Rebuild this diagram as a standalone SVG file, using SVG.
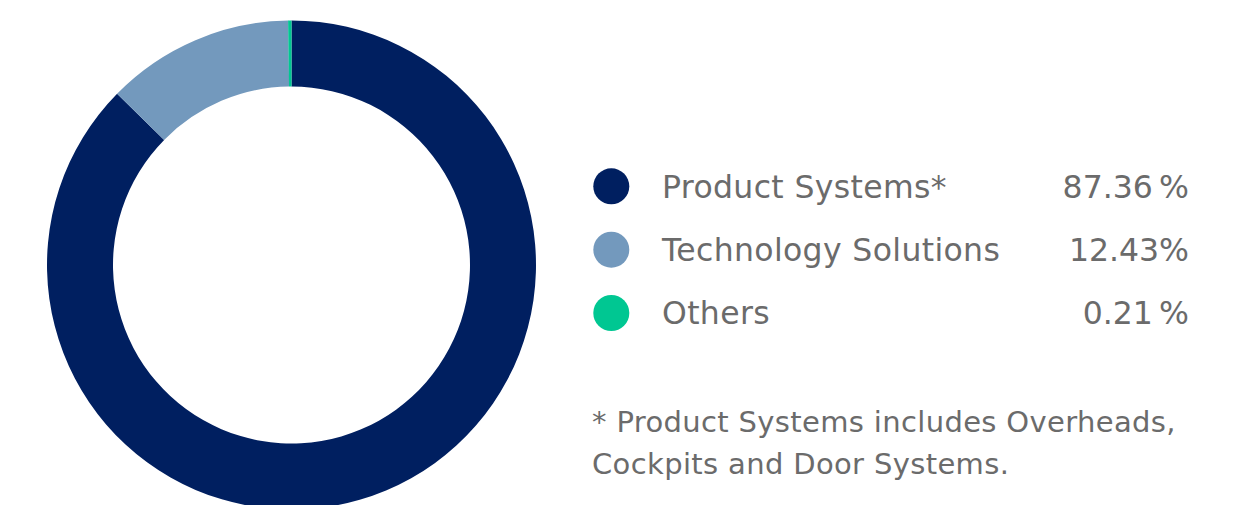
<svg xmlns="http://www.w3.org/2000/svg" width="1250" height="505" viewBox="0 0 1250 505">
<style>
.t{font-family:"DejaVu Sans",Verdana,sans-serif;fill:#6b6b6b}
.lg{font-size:31.5px}
.ls{letter-spacing:0.35px}
.fn{font-size:29px;letter-spacing:0.35px}
.pc{text-anchor:end}
</style>
<rect width="1250" height="505" fill="#ffffff"/>
<g id="donut">
<path id="seg-product" fill="#001f60" d="M 291.5 20.5 A 244.5 244.5 0 1 1 117.09 93.65 L 164.17 139.9 A 178.5 178.5 0 1 0 291.5 86.5 Z"/>
<path id="seg-technology" fill="#7399bd" d="M 117.09 93.65 A 244.5 244.5 0 0 1 288.27 20.52 L 289.14 86.52 A 178.5 178.5 0 0 0 164.17 139.9 Z"/>
<path id="seg-others" fill="#00c792" d="M 288.1 20.52 A 244.5 244.5 0 0 1 291.5 20.5 L 291.5 86.5 A 178.5 178.5 0 0 0 289 86.52 Z"/>
</g>
<g id="legend-product">
<circle cx="611.3" cy="186.3" r="18" fill="#001f60"/>
<text class="t lg ls" x="662" y="198">Product Systems*</text>
<text class="t lg pc" x="1189" y="198">87.36&#8201;%</text>
</g>
<g id="legend-technology">
<circle cx="611.3" cy="249.7" r="18" fill="#7399bd"/>
<text class="t lg ls" x="662" y="261">Technology Solutions</text>
<text class="t lg pc" x="1189" y="261">12.43%</text>
</g>
<g id="legend-others">
<circle cx="611.3" cy="313" r="18" fill="#00c792"/>
<text class="t lg ls" x="662" y="324">Others</text>
<text class="t lg pc" x="1189" y="324">0.21&#8201;%</text>
</g>
<g id="footnote">
<text class="t fn" x="592" y="432">* Product Systems includes Overheads,</text>
<text class="t fn" x="592" y="474">Cockpits and Door Systems.</text>
</g>
</svg>
